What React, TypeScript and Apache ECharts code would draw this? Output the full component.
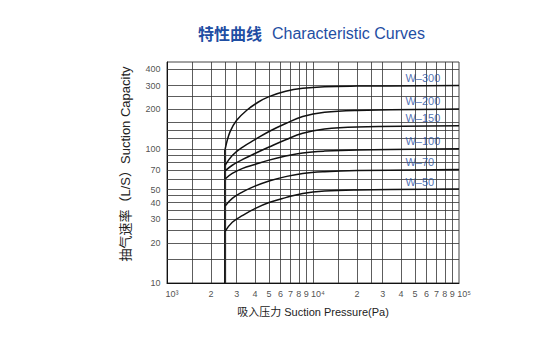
import React, { useEffect, useRef } from 'react';
import * as echarts from 'echarts';

// Grid lines (pressure in Pa, capacity in L/s)
const pressureGrid = [1500, 2000, 2500, 3000, 4000, 5000, 6000, 7000, 8000, 9000, 10000, 15000, 20000, 25000, 30000, 40000, 50000, 60000, 70000, 80000, 90000];
const capacityGrid = [15, 20, 25, 30, 35, 40, 45, 50, 60, 70, 80, 90, 100, 120, 140, 160, 200, 250, 300, 400];

// Tick labels
const xTickValues = [1000, 2000, 3000, 4000, 5000, 6000, 7000, 8000, 9000, 10000, 20000, 30000, 40000, 50000, 60000, 70000, 80000, 90000, 100000];
const xTickLabels = ['10³', '2', '3', '4', '5', '6', '7', '8', '9', '10⁴', '2', '3', '4', '5', '6', '7', '8', '9', '10⁵'];
const yTickValues = [10, 20, 30, 40, 50, 70, 100, 200, 300, 400];

// Curves
const curveNames = ['W–300', 'W–200', 'W–150', 'W–100', 'W–70', 'W–50'];
const curvePlateaus = [300, 200, 150, 100, 70, 50];
const startLine = [[2500, 10], [2500, 100]];

const w300 = [[2500, 100], [2700, 135], [3000, 165], [3500, 195], [4200, 225], [5000, 248], [6500, 272], [8500, 286], [12000, 294], [20000, 297], [100000, 300]];
const w200 = [[2500, 76], [2800, 90], [3300, 104], [4000, 118], [5000, 136], [6500, 156], [8500, 176], [12000, 189], [20000, 195], [100000, 200]];
const w150 = [[2500, 69], [2800, 76], [3300, 84], [4000, 93], [5000, 104], [6500, 118], [8500, 132], [12000, 142], [20000, 147], [100000, 150]];
const w100 = [[2500, 60], [2800, 66], [3300, 72], [4000, 77], [5000, 83], [6500, 89], [8500, 94], [12000, 97], [20000, 99], [100000, 101]];
const w70 = [[2500, 37.6], [2800, 43], [3300, 48], [4000, 53], [5000, 58], [6500, 62.5], [8500, 66], [12000, 68], [20000, 69.3], [100000, 70.5]];
const w50 = [[2500, 24.3], [2800, 28.5], [3300, 32], [4000, 36], [5000, 40], [6500, 43.5], [8500, 46.8], [12000, 48.8], [20000, 49.7], [100000, 50.5]];
const curves = [w300, w200, w150, w100, w70, w50];
const curveLabelPressure = 40000;

const FONT = '"Liberation Sans", Arial, "Noto Sans CJK SC", sans-serif';
const BLUE = '#1f4ea3';

export default function App() {
  const ref = useRef<HTMLDivElement>(null);
  useEffect(() => {
    document.body.style.margin = '0';
    if (!ref.current) return;
    const chart = echarts.init(ref.current, undefined, { renderer: 'svg' });
    const lineSeries = curves.map((d, i) => ({
      type: 'line',
      name: curveNames[i],
      data: d,
      smooth: 0.4,
      showSymbol: false,
      silent: true,
      z: 5,
      lineStyle: { color: '#111', width: 1.5 },
    }));
    chart.setOption({
      animation: false,
      title: {
        text: '{a|特性曲线}  {b|Characteristic Curves}',
        left: 193,
        top: 19,
        textStyle: {
          rich: {
            a: { fontSize: 16, fontWeight: 'bold', color: BLUE, fontFamily: '"Noto Sans CJK SC", sans-serif' },
            b: { fontSize: 16, fontWeight: 'normal', color: BLUE, fontFamily: FONT },
          },
        },
      },
      grid: { left: 167, top: 62, width: 292, height: 221, show: true, borderColor: '#444', borderWidth: 1 },
      xAxis: {
        type: 'log', logBase: 10, min: 1000, max: 100000,
        axisLine: { show: true, lineStyle: { color: '#111', width: 1 } },
        axisTick: { show: false }, axisLabel: { show: false }, splitLine: { show: false },
      },
      yAxis: {
        type: 'log', logBase: 10, min: 10, max: 450,
        axisLine: { show: true, lineStyle: { color: '#111', width: 1 } },
        axisTick: { show: false }, axisLabel: { show: false }, splitLine: { show: false },
      },
      graphic: [
        {
          type: 'text', x: 125, y: 164, rotation: Math.PI / 2,
          style: { text: '抽气速率（L/S）Suction Capacity', fontSize: 13, fill: '#222', align: 'center', verticalAlign: 'middle', fontFamily: FONT },
        },
        {
          type: 'text', x: 313, y: 312,
          style: { text: '吸入压力 Suction Pressure(Pa)', fontSize: 11, fill: '#222', align: 'center', verticalAlign: 'middle', fontFamily: FONT },
        },
      ],
      series: [
        {
          type: 'line',
          data: startLine,
          showSymbol: false,
          silent: true,
          z: 4,
          lineStyle: { color: '#000', width: 2 },
          markLine: {
            silent: true,
            symbol: ['none', 'none'],
            label: { show: false },
            lineStyle: { color: '#333', width: 0.8, type: 'solid' },
            emphasis: { disabled: true },
            data: [
              ...pressureGrid.map((v) => ({ xAxis: v })),
              ...capacityGrid.map((v) => ({ yAxis: v })),
            ],
          },
        },
        ...lineSeries,
        {
          type: 'scatter',
          data: yTickValues.map((v) => [1000, v]),
          symbolSize: 1,
          clip: false,
          silent: true,
          itemStyle: { color: 'rgba(0,0,0,0)' },
          label: { show: true, position: 'left', distance: 6, formatter: (p: any) => String(p.value[1]), color: '#222', fontSize: 9, fontFamily: FONT },
        },
        {
          type: 'scatter',
          data: xTickValues.map((v, i) => ({
            value: [v, 10],
            name: xTickLabels[i],
            label: xTickLabels[i].startsWith('10') ? { offset: [5, 0] } : undefined,
          })),
          symbolSize: 1,
          clip: false,
          silent: true,
          itemStyle: { color: 'rgba(0,0,0,0)' },
          label: { show: true, position: 'bottom', distance: 6, formatter: '{b}', color: '#222', fontSize: 9, fontFamily: FONT },
        },
        {
          type: 'scatter',
          data: curveNames.map((n, i) => ({ value: [curveLabelPressure, curvePlateaus[i]], name: n })),
          symbolSize: 1,
          clip: false,
          silent: true,
          z: 6,
          itemStyle: { color: 'rgba(0,0,0,0)' },
          label: { show: true, position: 'right', distance: 4, offset: [0, -8], formatter: '{b}', color: BLUE, fontSize: 11, fontFamily: FONT },
        },
      ],
    });
    return () => chart.dispose();
  }, []);
  return <div ref={ref} style={{ width: 552, height: 362 }} />;
}
